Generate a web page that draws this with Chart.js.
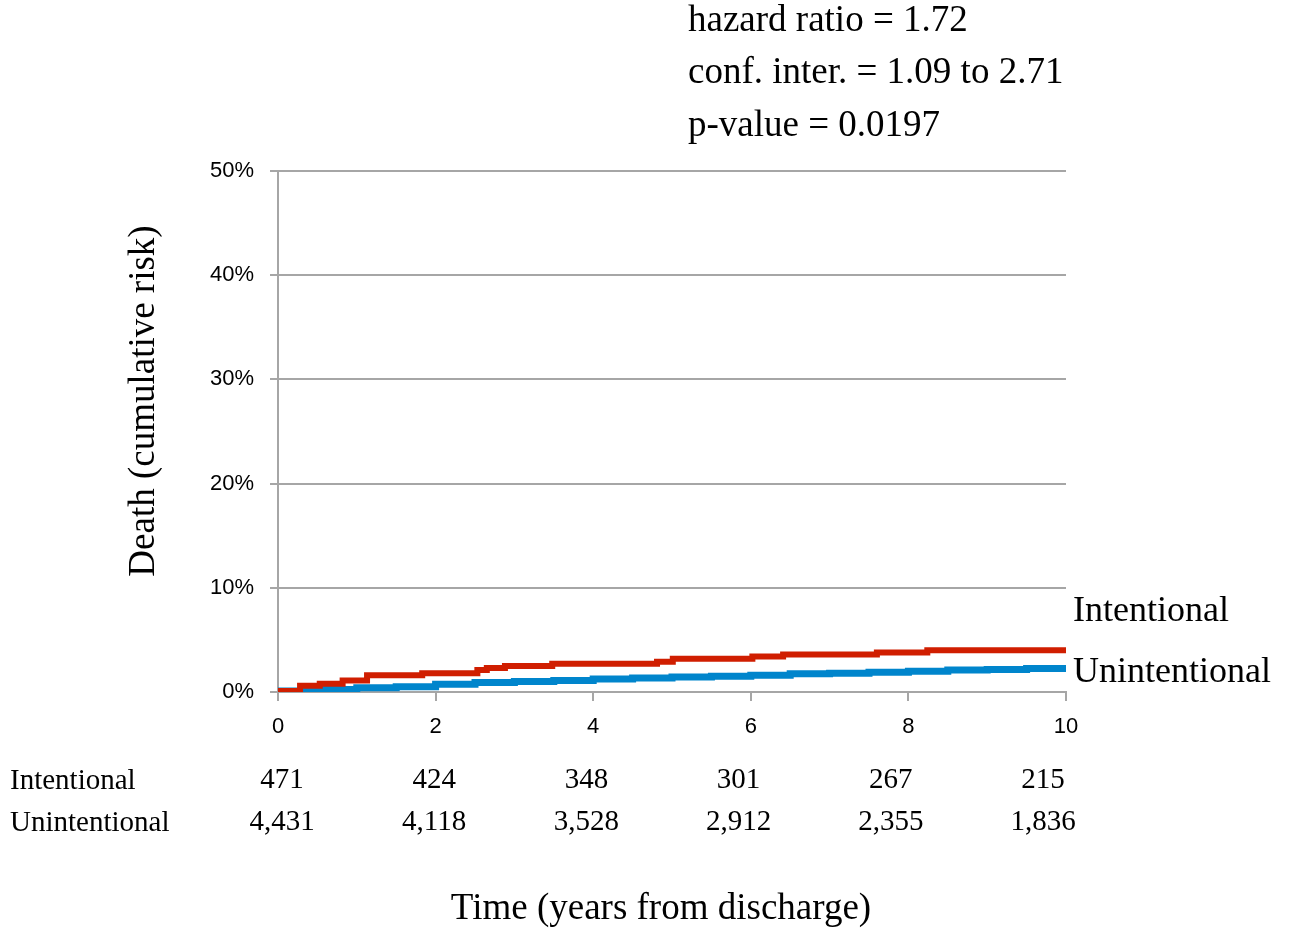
<!DOCTYPE html>
<html>
<head>
<meta charset="utf-8">
<script src="https://cdn.jsdelivr.net/npm/chart.js@4"></script>
<style>
  html, body { margin: 0; padding: 0; background: #fff; }
  #wrap { width: 1289px; height: 928px; position: relative; }
</style>
</head>
<body>
<div id="wrap"><canvas id="myChart" width="1289" height="928"></canvas></div>
<script>
  // cumulative risk (%) steps
  const intentionalYears = [0, 0.28, 0.53, 0.82, 1.13, 1.83, 2.53, 2.65, 2.88, 3.48, 4.81, 5.01, 6.02, 6.41, 7.6, 8.24, 10];
  const intentionalRisk  = [0.1, 0.6, 0.8, 1.1, 1.6, 1.8, 2.1, 2.3, 2.5, 2.7, 2.9, 3.2, 3.4, 3.6, 3.8, 4.0, 4.0];

  const unintentionalYears = [0, 0.5, 1, 1.5, 2, 2.5, 3, 3.5, 4, 4.5, 5, 5.5, 6, 6.5, 7, 7.5, 8, 8.5, 9, 9.5, 10];
  const unintentionalRisk  = [0.1, 0.25, 0.4, 0.5, 0.75, 0.9, 1.0, 1.1, 1.25, 1.35, 1.45, 1.5, 1.6, 1.75, 1.8, 1.9, 2.0, 2.1, 2.15, 2.25, 2.3];

  const riskTicks = [0, 2, 4, 6, 8, 10];
  const atRiskIntentional   = ['471', '424', '348', '301', '267', '215'];
  const atRiskUnintentional = ['4,431', '4,118', '3,528', '2,912', '2,355', '1,836'];

  const statsLines = ['hazard ratio = 1.72', 'conf. inter. = 1.09 to 2.71', 'p-value = 0.0197'];

  const serif = '"Liberation Serif", "Times New Roman", serif';
  const sans = '"Liberation Sans", Arial, sans-serif';

  function toPoints(xs, ys) {
    return xs.map((x, i) => ({ x: x, y: ys[i] }));
  }

  const textPlugin = {
    id: 'kmText',
    afterDraw(chart) {
      const ctx = chart.ctx;
      const xs = chart.scales.x;
      ctx.save();
      ctx.fillStyle = '#000';

      // stats block
      ctx.font = '37px ' + serif;
      ctx.textAlign = 'left';
      ctx.textBaseline = 'middle';
      statsLines.forEach((t, i) => ctx.fillText(t, 688, 21 + i * 52.5));

      // curve labels
      ctx.font = '36px ' + serif;
      ctx.fillText('Intentional', 1073, 612);
      ctx.fillText('Unintentional', 1073, 673);

      // number at risk table
      ctx.font = '29px ' + serif;
      ctx.fillText('Intentional', 10, 781);
      ctx.fillText('Unintentional', 10, 823);
      ctx.textAlign = 'center';
      riskTicks.forEach((t, i) => {
        const cx = xs.getPixelForValue(t) + 4 - 2.7 * t;
        ctx.fillText(atRiskIntentional[i], cx, 780);
        ctx.fillText(atRiskUnintentional[i], cx, 822);
      });

      // axis titles
      ctx.font = '37px ' + serif;
      ctx.fillText('Time (years from discharge)', 661, 909);
      ctx.save();
      ctx.translate(144, 401);
      ctx.rotate(-Math.PI / 2);
      ctx.font = '37px ' + serif;
      ctx.fillText('Death (cumulative risk)', 0, 0);
      ctx.restore();

      ctx.restore();
    }
  };

  const config = {
    type: 'line',
    data: {
      datasets: [{
        label: 'Intentional',
        data: toPoints(intentionalYears, intentionalRisk),
        borderColor: '#D01E00',
        borderWidth: 6,
        stepped: 'before',
        pointRadius: 0,
        fill: false
      }, {
        label: 'Unintentional',
        data: toPoints(unintentionalYears, unintentionalRisk),
        borderColor: '#0085CC',
        borderWidth: 7,
        stepped: 'before',
        pointRadius: 0,
        fill: false
      }]
    },
    options: {
      responsive: false,
      animation: false,
      layout: { padding: { left: 0, right: 223, top: 171, bottom: 0 } },
      plugins: {
        legend: { display: false },
        tooltip: { enabled: false }
      },
      scales: {
        x: {
          type: 'linear',
          min: 0,
          max: 10,
          ticks: {
            stepSize: 2,
            color: '#000',
            font: { family: sans, size: 22 },
            padding: 13
          },
          grid: {
            drawOnChartArea: false,
            drawTicks: true,
            tickLength: 9,
            color: '#a6a6a6',
            lineWidth: 2
          },
          border: { color: '#a6a6a6', width: 2 },
          afterFit(scale) { scale.height = 236; }
        },
        y: {
          min: 0,
          max: 50,
          ticks: {
            stepSize: 10,
            color: '#000',
            font: { family: sans, size: 22 },
            padding: 16,
            callback: v => v + '%'
          },
          grid: {
            color: '#a6a6a6',
            lineWidth: 2,
            tickLength: 8
          },
          border: { color: '#a6a6a6', width: 2 },
          afterFit(scale) { scale.width = 278; }
        }
      }
    },
    plugins: [textPlugin]
  };

  const myChart = new Chart(document.getElementById('myChart'), config);
</script>
</body>
</html>
